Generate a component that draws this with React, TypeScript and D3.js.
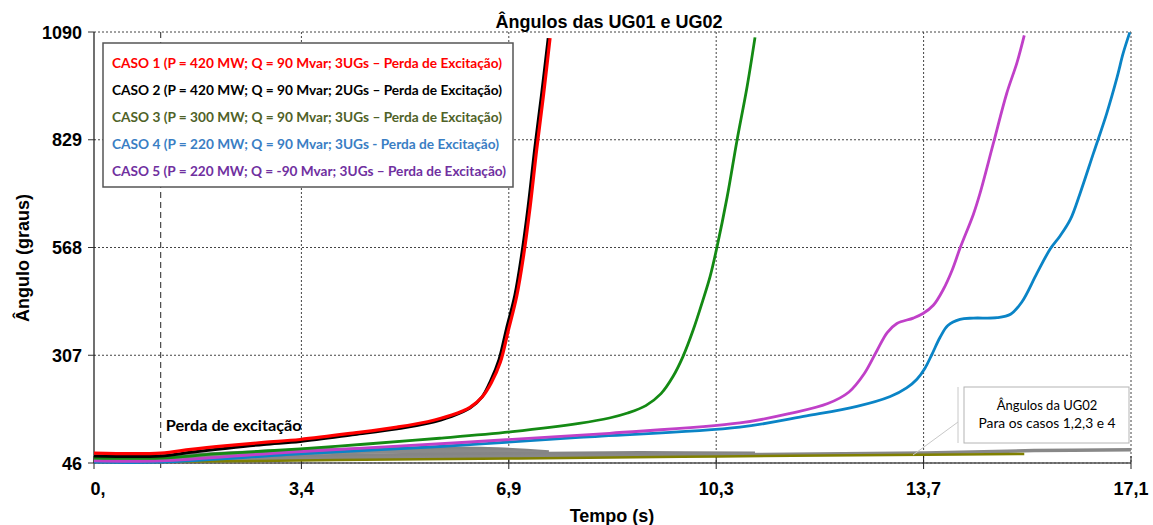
import React, { useEffect, useRef } from 'react';
import * as d3 from 'd3';

// [tempo (s), angulo (graus)]
const caso1: [number, number][] = [[0, 70], [1.1, 70], [1.6, 79], [2.2, 88], [2.8, 96], [3.4, 103], [4.3, 119], [5.0, 133], [5.5, 146], [5.9, 162], [6.2, 181], [6.4, 206], [6.55, 240], [6.7, 290], [6.83, 366], [6.97, 450], [7.08, 545], [7.19, 665], [7.3, 806], [7.41, 935], [7.52, 1075]];
const caso2: [number, number][] = [[0, 63], [1.1, 63], [1.6, 72], [2.2, 82], [2.8, 91], [3.4, 98], [4.3, 115], [5.0, 129], [5.5, 142], [5.9, 159], [6.2, 179], [6.4, 206], [6.54, 245], [6.68, 297], [6.8, 370], [6.94, 452], [7.05, 548], [7.16, 668], [7.27, 810], [7.38, 938], [7.49, 1075]];
const caso3: [number, number][] = [[0, 58], [1.1, 58], [2, 68], [3.4, 80], [4.5, 92], [5.7, 106], [6.9, 122], [8.0, 142], [8.5, 155], [8.8, 167], [9.1, 185], [9.35, 214], [9.55, 256], [9.71, 303], [9.88, 368], [10.04, 440], [10.16, 498], [10.27, 567], [10.44, 690], [10.6, 825], [10.77, 958], [10.9, 1077]];
const caso4: [number, number][] = [[0, 48], [1.1, 48], [3.4, 68], [5.7, 86], [8.0, 108], [10.65, 133], [11.75, 160], [12.58, 183], [13.13, 207], [13.4, 228], [13.57, 249], [13.7, 275], [13.82, 310], [13.95, 350], [14.08, 379], [14.28, 394], [14.5, 397], [14.89, 398], [15.12, 407], [15.3, 436], [15.55, 506], [15.77, 565], [15.93, 596], [16.1, 636], [16.26, 699], [16.48, 796], [16.7, 893], [16.87, 980], [16.97, 1038], [17.08, 1089]];
const caso5: [number, number][] = [[0, 51], [1.1, 51], [3.2, 72], [6.0, 95], [8.5, 118], [10.65, 143], [11.48, 166], [12.1, 190], [12.45, 218], [12.7, 262], [12.91, 318], [13.08, 362], [13.24, 384], [13.51, 397], [13.67, 408], [13.84, 428], [14.0, 465], [14.15, 513], [14.28, 566], [14.5, 648], [14.61, 699], [14.83, 820], [15.05, 941], [15.22, 1016], [15.34, 1082]];

// angulos da UG02
const ug02Caso1: [number, number][] = [[0, 62], [1.1, 62], [2, 68], [3.4, 76], [5, 80], [6.5, 80], [7.5, 72]];
const ug02Caso2: [number, number][] = [[0, 58], [1.1, 58], [2, 63], [3.4, 70], [5, 74], [6.5, 74], [7.5, 68]];
const ug02Caso3: [number, number][] = [[0, 55], [1.1, 55], [3.4, 62], [6.9, 68], [9, 70], [10.9, 69]];
const ug02Caso4: [number, number][] = [[0, 52], [1.1, 52], [3.4, 57], [6.9, 62], [10.3, 66], [13.7, 70], [15.5, 76], [17.1, 78]];
const ug02Caso5: [number, number][] = [[0, 49], [1.1, 49], [4, 53], [7, 57], [10.3, 62], [13.7, 66], [15.34, 68]];

const xTickValues = [0, 3.42, 6.84, 10.26, 13.68, 17.1];
const xTickLabels = ['0,', '3,4', '6,9', '10,3', '13,7', '17,1'];
const yTickValues = [46, 307, 568, 829, 1090];

const legendLabels = [
  'CASO 1 (P = 420 MW; Q = 90 Mvar; 3UGs – Perda de Excitação)',
  'CASO 2 (P = 420 MW; Q = 90 Mvar; 2UGs – Perda de Excitação)',
  'CASO 3 (P = 300 MW; Q = 90 Mvar; 3UGs – Perda de Excitação)',
  'CASO 4 (P = 220 MW; Q = 90 Mvar; 3UGs - Perda de Excitação)',
  'CASO 5 (P = 220 MW; Q = -90 Mvar; 3UGs – Perda de Excitação)',
];
const legendColors = ['#ff0000', '#000000', '#4f6228', '#3a7ec4', '#7030a0'];
const legendWidths = [390, 390, 390, 387, 394];

const faultTime = 1.1;

const App: React.FC = () => {
  const svgRef = useRef<SVGSVGElement | null>(null);

  useEffect(() => {
    if (!svgRef.current) return;
    const width = 1153;
    const height = 525;
    const left = 94, right = 1131, top = 32, bottom = 463;

    const x = d3.scaleLinear().domain([0, 17.1]).range([left, right]);
    const y = d3.scaleLinear().domain([46, 1090]).range([bottom, top]);

    const svg = d3.select(svgRef.current)
      .attr('width', width)
      .attr('height', height)
      .attr('viewBox', `0 0 ${width} ${height}`);
    svg.selectAll('*').remove();

    const bold = "'Liberation Sans', Arial, sans-serif";
    const soft = "Lato, 'Open Sans', sans-serif";

    // grid
    const grid = svg.append('g');
    yTickValues.forEach(v => {
      grid.append('line')
        .attr('x1', left).attr('x2', right)
        .attr('y1', y(v)).attr('y2', y(v))
        .attr('stroke', '#444').attr('stroke-dasharray', '2,2');
    });
    xTickValues.slice(1).forEach(v => {
      grid.append('line')
        .attr('x1', x(v)).attr('x2', x(v))
        .attr('y1', top).attr('y2', bottom)
        .attr('stroke', '#444').attr('stroke-dasharray', '2,2');
    });
    // perda de excitacao marker
    grid.append('line')
      .attr('x1', x(faultTime)).attr('x2', x(faultTime))
      .attr('y1', top).attr('y2', bottom + 6)
      .attr('stroke', '#222').attr('stroke-dasharray', '6,4');

    // axes
    svg.append('line')
      .attr('x1', left).attr('x2', left).attr('y1', top).attr('y2', bottom)
      .attr('stroke', '#111').attr('stroke-width', 1.2);
    svg.append('line')
      .attr('x1', left).attr('x2', right).attr('y1', bottom).attr('y2', bottom)
      .attr('stroke', '#555').attr('stroke-width', 1.5);

    yTickValues.forEach(v => {
      svg.append('line')
        .attr('x1', left - 6).attr('x2', left).attr('y1', y(v)).attr('y2', y(v))
        .attr('stroke', '#333');
      svg.append('text')
        .attr('x', left - 12).attr('y', y(v) + 6.5)
        .attr('text-anchor', 'end')
        .attr('font-family', bold).attr('font-weight', 'bold').attr('font-size', 18)
        .text(String(v));
    });
    xTickValues.forEach((v, i) => {
      svg.append('line')
        .attr('x1', x(v)).attr('x2', x(v)).attr('y1', bottom - 7).attr('y2', bottom + 6)
        .attr('stroke', '#222');
      svg.append('text')
        .attr('x', x(v) + (i === 0 ? 4 : 0)).attr('y', 495)
        .attr('text-anchor', 'middle')
        .attr('font-family', bold).attr('font-weight', 'bold').attr('font-size', 18)
        .text(xTickLabels[i]);
    });

    // curves
    const line = d3.line<[number, number]>()
      .x(d => x(d[0]))
      .y(d => y(d[1]))
      .curve(d3.curveCatmullRom.alpha(0.5));

    const series: { data: [number, number][]; color: string; w: number }[] = [
      { data: ug02Caso1, color: '#858585', w: 4 },
      { data: ug02Caso2, color: '#8a8a8a', w: 4 },
      { data: ug02Caso3, color: '#858585', w: 4 },
      { data: ug02Caso4, color: '#888888', w: 3.5 },
      { data: ug02Caso5, color: '#808000', w: 2.5 },
      { data: caso4, color: '#0a84c6', w: 2.8 },
      { data: caso5, color: '#c040c8', w: 2.8 },
      { data: caso3, color: '#148a14', w: 2.8 },
      { data: caso2, color: '#000000', w: 3 },
      { data: caso1, color: '#ff0000', w: 3.2 },
    ];
    svg.append('g')
      .selectAll('path')
      .data(series)
      .join('path')
      .attr('d', d => line(d.data) ?? '')
      .attr('fill', 'none')
      .attr('stroke', d => d.color)
      .attr('stroke-width', d => d.w)
      .attr('stroke-linejoin', 'round');

    // title and axis labels
    svg.append('text')
      .attr('x', 609).attr('y', 28).attr('text-anchor', 'middle')
      .attr('font-family', bold).attr('font-weight', 'bold').attr('font-size', 18)
      .text('Ângulos das UG01 e UG02');
    svg.append('text')
      .attr('x', 612).attr('y', 522).attr('text-anchor', 'middle')
      .attr('font-family', bold).attr('font-weight', 'bold').attr('font-size', 18)
      .text('Tempo (s)');
    svg.append('text')
      .attr('transform', 'translate(29,258) rotate(-90)')
      .attr('text-anchor', 'middle')
      .attr('font-family', bold).attr('font-weight', 'bold').attr('font-size', 18)
      .text('Ângulo (graus)');

    svg.append('text')
      .attr('x', x(faultTime) + 5).attr('y', 431)
      .attr('font-family', soft).attr('font-weight', 'bold').attr('font-size', 14.5)
      .attr('textLength', 136).attr('lengthAdjust', 'spacingAndGlyphs')
      .text('Perda de excitação');

    // legend
    const lg = svg.append('g');
    lg.append('rect')
      .attr('x', 103).attr('y', 43).attr('width', 410).attr('height', 144)
      .attr('fill', '#fff').attr('stroke', '#555').attr('stroke-width', 1.5);
    lg.selectAll('text')
      .data(legendLabels)
      .join('text')
      .attr('x', 112)
      .attr('y', (_, i) => 67.5 + i * 27)
      .attr('fill', (_, i) => legendColors[i])
      .attr('font-family', soft).attr('font-weight', 'bold').attr('font-size', 13)
      .attr('textLength', (_, i) => legendWidths[i])
      .attr('lengthAdjust', 'spacingAndGlyphs')
      .text(d => d);

    // UG02 callout
    const co = svg.append('g');
    co.append('line')
      .attr('x1', 958).attr('y1', 422).attr('x2', 913).attr('y2', 455)
      .attr('stroke', '#c8c8c8');
    co.append('line')
      .attr('x1', 958).attr('y1', 387).attr('x2', 958).attr('y2', 443)
      .attr('stroke', '#c8c8c8');
    co.append('rect')
      .attr('x', 964).attr('y', 387).attr('width', 165).attr('height', 56)
      .attr('fill', '#fff').attr('stroke', '#b4b4b4');
    co.append('text')
      .attr('x', 1047).attr('y', 410).attr('text-anchor', 'middle')
      .attr('font-family', soft).attr('font-size', 13)
      .text('Ângulos da UG02');
    co.append('text')
      .attr('x', 1047).attr('y', 428).attr('text-anchor', 'middle')
      .attr('font-family', soft).attr('font-size', 13)
      .attr('textLength', 137).attr('lengthAdjust', 'spacingAndGlyphs')
      .text('Para os casos 1,2,3 e 4');
  }, []);

  return (
    <svg ref={svgRef} style={{ position: 'absolute', left: 0, top: 0, display: 'block', background: '#fff' }} />
  );
};

export default App;
